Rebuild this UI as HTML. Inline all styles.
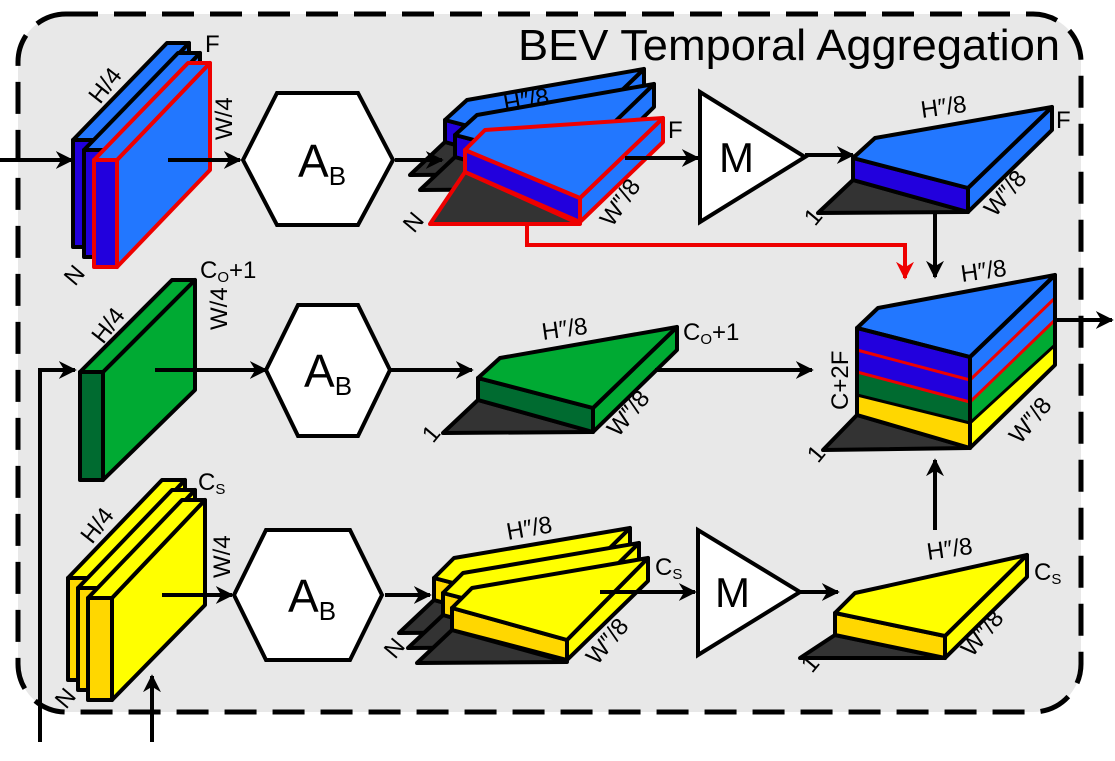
<!DOCTYPE html>
<html><head><meta charset="utf-8"><style>
html,body{margin:0;padding:0;background:#fff;}
svg{display:block;font-family:"Liberation Sans",sans-serif;}
</style></head><body>
<svg width="1115" height="761" viewBox="0 0 1115 761">
<defs>
<marker id="ah" viewBox="0 0 10 10" refX="9" refY="5" markerWidth="4.5" markerHeight="4.5" orient="auto" markerUnits="strokeWidth"><path d="M0,0 L10,5 L0,10 L3,5 z" fill="#000"/></marker>
<marker id="ahr" viewBox="0 0 10 10" refX="9" refY="5" markerWidth="4.5" markerHeight="4.5" orient="auto" markerUnits="strokeWidth"><path d="M0,0 L10,5 L0,10 L3,5 z" fill="#e00"/></marker>
</defs>
<rect x="0" y="0" width="1115" height="761" fill="#fff"/>
<rect x="18" y="14" width="1063" height="698" rx="48" fill="#e8e8e8" stroke="#000" stroke-width="5" stroke-dasharray="32,16"/>
<text x="1060" y="60" font-size="44" text-anchor="end" textLength="542" lengthAdjust="spacingAndGlyphs">BEV Temporal Aggregation</text>

<g stroke="#000" stroke-width="4" stroke-linejoin="round">
<g transform="translate(-21,-20)"><polygon points="94,160 117,160 117,267 94,267" fill="#2200dd"/><polygon points="117,160 210,63 210,170 117,267" fill="#2277ff"/><polygon points="94,160 188,63 210,63 117,160" fill="#2277ff"/></g>
<g transform="translate(-10,-10)"><polygon points="94,160 117,160 117,267 94,267" fill="#2200dd"/><polygon points="117,160 210,63 210,170 117,267" fill="#2277ff"/><polygon points="94,160 188,63 210,63 117,160" fill="#2277ff"/></g>
<g stroke="#e00"><polygon points="94,160 117,160 117,267 94,267" fill="#2200dd"/><polygon points="117,160 210,63 210,170 117,267" fill="#2277ff"/><polygon points="94,160 188,63 210,63 117,160" fill="#2277ff"/></g>
</g>
<text x="205" y="52" font-size="24">F</text>
<text font-size="24" transform="translate(100,105) rotate(-52)">H/4</text>
<text font-size="24" transform="translate(232,140) rotate(-90)">W/4</text>
<text font-size="24" transform="translate(75,287) rotate(-50)">N</text>

<g><polygon points="243,160 277,93 358,93 393,160 358,225 277,225" fill="#fff" stroke="#000" stroke-width="4"/><text x="298" y="177" font-size="46">A<tspan font-size="26" dy="8">B</tspan></text></g>
<g><polygon points="266,370 298,305 358,305 390,370 358,436 298,436" fill="#fff" stroke="#000" stroke-width="4"/><text x="304" y="387" font-size="46">A<tspan font-size="26" dy="8">B</tspan></text></g>
<g><polygon points="234,595 266,530 350,530 382,595 350,660 266,660" fill="#fff" stroke="#000" stroke-width="4"/><text x="288" y="612" font-size="46">A<tspan font-size="26" dy="8">B</tspan></text></g>

<g stroke="#000" stroke-width="4" stroke-linejoin="round">
<g transform="translate(445,120)"><polygon points="-35,55 0,22 115,54" fill="#333"/><polygon points="0,0 115,30 115,54 0,22" fill="#2200dd"/><polygon points="115,30 199,-51 199,-28 115,54" fill="#2277ff"/><polygon points="0,0 22,-20 199,-51 115,30" fill="#2277ff"/></g>
<g transform="translate(455,135)"><polygon points="-35,55 0,22 115,54" fill="#333"/><polygon points="0,0 115,30 115,54 0,22" fill="#2200dd"/><polygon points="115,30 199,-51 199,-28 115,54" fill="#2277ff"/><polygon points="0,0 22,-20 199,-51 115,30" fill="#2277ff"/></g>
<g transform="translate(465,150)" stroke="#e00"><polygon points="-35,74 0,22 115,74" fill="#333"/><polygon points="0,0 115,48 115,72 0,22" fill="#2200dd"/><polygon points="115,48 198,-32 198,-8 115,72" fill="#2277ff"/><polygon points="0,0 20,-20 198,-32 115,48" fill="#2277ff"/></g>
</g>
<text font-size="24" transform="translate(505,112) rotate(-10)">H″/8</text>
<text x="668" y="138" font-size="24">F</text>
<text font-size="24" transform="translate(612,228) rotate(-55)">W″/8</text>
<text font-size="24" transform="translate(414,234) rotate(-50)">N</text>

<polygon points="700,92 700,222 805,157" fill="#fff" stroke="#000" stroke-width="4"/>
<text x="719" y="172" font-size="42">M</text>

<g transform="translate(853,158)" stroke="#000" stroke-width="4" stroke-linejoin="round"><polygon points="-35,55 0,22 115,54" fill="#333"/><polygon points="0,0 115,30 115,54 0,22" fill="#2200dd"/><polygon points="115,30 199,-51 199,-28 115,54" fill="#2277ff"/><polygon points="0,0 22,-20 199,-51 115,30" fill="#2277ff"/></g>
<text font-size="24" transform="translate(922,118) rotate(-8)">H″/8</text>
<text x="1056" y="128" font-size="24">F</text>
<text font-size="24" transform="translate(995,218) rotate(-50)">W″/8</text>
<text font-size="24" transform="translate(815,227) rotate(-50)">1</text>

<g stroke-linejoin="round">
<polygon points="823,450 857,415 970,448" fill="#333" stroke="#000" stroke-width="4"/>
<polygon points="857,328 970,357 970,380 857,350" fill="#2200dd"/>
<polygon points="857,350 970,380 970,402 857,372" fill="#2200dd"/>
<polygon points="857,372 970,402 970,423 857,395" fill="#006b30"/>
<polygon points="857,395 970,423 970,448 857,415" fill="#ffd700"/>
<polygon points="970,357 1055,275 1055,298 970,380" fill="#2277ff"/>
<polygon points="970,380 1055,298 1055,320 970,402" fill="#2277ff"/>
<polygon points="970,402 1055,320 1055,345 970,423" fill="#00aa33"/>
<polygon points="970,423 1055,345 1055,365 970,448" fill="#ffff00"/>
<g stroke="#e00" stroke-width="3"><line x1="857" y1="350" x2="970" y2="380"/><line x1="857" y1="372" x2="970" y2="402"/><line x1="970" y1="380" x2="1055" y2="298"/><line x1="970" y1="402" x2="1055" y2="320"/></g>
<g stroke="#000" stroke-width="3"><line x1="857" y1="395" x2="970" y2="423"/><line x1="970" y1="423" x2="1055" y2="345"/></g>
<polygon points="857,328 878,308 1055,275 970,357" fill="#2277ff" stroke="#000" stroke-width="4"/>
<polygon points="857,328 970,357 970,448 857,415" fill="none" stroke="#000" stroke-width="4"/>
<polygon points="970,357 1055,275 1055,365 970,448" fill="none" stroke="#000" stroke-width="4"/>
</g>
<text font-size="24" transform="translate(962,282) rotate(-8)">H″/8</text>
<text font-size="24" transform="translate(848,410) rotate(-90)">C+2F</text>
<text font-size="24" transform="translate(1020,445) rotate(-50)">W″/8</text>
<text font-size="24" transform="translate(818,464) rotate(-50)">1</text>

<g stroke="#000" stroke-width="4" stroke-linejoin="round">
<polygon points="80,372 103,372 103,480 80,480" fill="#006b30"/>
<polygon points="103,372 195,280 195,390 103,480" fill="#00aa33"/>
<polygon points="80,372 172,280 195,280 103,372" fill="#00aa33"/>
</g>
<text x="200" y="278" font-size="24">C<tspan font-size="15" dy="4">O</tspan><tspan dy="-4">+1</tspan></text>
<text font-size="24" transform="translate(103,345) rotate(-52)">H/4</text>
<text font-size="24" transform="translate(227,330) rotate(-90)">W/4</text>

<g transform="translate(478,378)" stroke="#000" stroke-width="4" stroke-linejoin="round"><polygon points="-35,55 0,22 115,54" fill="#333"/><polygon points="0,0 115,30 115,54 0,22" fill="#006b30"/><polygon points="115,30 199,-51 199,-28 115,54" fill="#00aa33"/><polygon points="0,0 22,-20 199,-51 115,30" fill="#00aa33"/></g>
<text font-size="24" transform="translate(543,340) rotate(-8)">H″/8</text>
<text x="683" y="340" font-size="24">C<tspan font-size="15" dy="4">O</tspan><tspan dy="-4">+1</tspan></text>
<text font-size="24" transform="translate(618,438) rotate(-50)">W″/8</text>
<text font-size="24" transform="translate(433,444) rotate(-50)">1</text>

<g stroke="#000" stroke-width="4" stroke-linejoin="round">
<g transform="translate(-20,-20)"><polygon points="88,598 112,598 112,700 88,700" fill="#ffd700"/><polygon points="112,598 205,500 205,605 112,700" fill="#ffff00"/><polygon points="88,598 182,500 205,500 112,598" fill="#ffff00"/></g>
<g transform="translate(-10,-10)"><polygon points="88,598 112,598 112,700 88,700" fill="#ffd700"/><polygon points="112,598 205,500 205,605 112,700" fill="#ffff00"/><polygon points="88,598 182,500 205,500 112,598" fill="#ffff00"/></g>
<g><polygon points="88,598 112,598 112,700 88,700" fill="#ffd700"/><polygon points="112,598 205,500 205,605 112,700" fill="#ffff00"/><polygon points="88,598 182,500 205,500 112,598" fill="#ffff00"/></g>
</g>
<text x="198" y="490" font-size="24">C<tspan font-size="15" dy="4">S</tspan></text>
<text font-size="24" transform="translate(92,545) rotate(-52)">H/4</text>
<text font-size="24" transform="translate(230,578) rotate(-90)">W/4</text>
<text font-size="24" transform="translate(66,710) rotate(-50)">N</text>

<g stroke="#000" stroke-width="4" stroke-linejoin="round">
<g transform="translate(434,578)"><polygon points="-35,55 0,22 115,54" fill="#333"/><polygon points="0,0 115,30 115,54 0,22" fill="#ffd700"/><polygon points="115,30 196,-50 196,-27 115,54" fill="#ffff00"/><polygon points="0,0 20,-20 196,-50 115,30" fill="#ffff00"/></g>
<g transform="translate(443,593)"><polygon points="-35,55 0,22 115,54" fill="#333"/><polygon points="0,0 115,30 115,54 0,22" fill="#ffd700"/><polygon points="115,30 196,-50 196,-27 115,54" fill="#ffff00"/><polygon points="0,0 20,-20 196,-50 115,30" fill="#ffff00"/></g>
<g transform="translate(452,608)"><polygon points="-35,55 0,22 115,54" fill="#333"/><polygon points="0,0 115,32 115,52 0,22" fill="#ffd700"/><polygon points="115,32 196,-50 196,-27 115,52" fill="#ffff00"/><polygon points="0,0 20,-20 196,-50 115,32" fill="#ffff00"/></g>
</g>
<text font-size="24" transform="translate(508,540) rotate(-10)">H″/8</text>
<text x="655" y="575" font-size="24">C<tspan font-size="15" dy="4">S</tspan></text>
<text font-size="24" transform="translate(597,666) rotate(-50)">W″/8</text>
<text font-size="24" transform="translate(395,660) rotate(-50)">N</text>

<polygon points="698,530 698,655 800,592" fill="#fff" stroke="#000" stroke-width="4"/>
<text x="715" y="607" font-size="42">M</text>

<g transform="translate(835,613)" stroke="#000" stroke-width="4" stroke-linejoin="round"><polygon points="-35,45 0,22 110,45" fill="#333"/><polygon points="0,0 110,23 110,45 0,22" fill="#ffd700"/><polygon points="110,23 192,-58 192,-36 110,45" fill="#ffff00"/><polygon points="0,0 20,-20 192,-58 110,23" fill="#ffff00"/></g>
<text font-size="24" transform="translate(928,560) rotate(-8)">H″/8</text>
<text x="1034" y="580" font-size="24">C<tspan font-size="15" dy="4">S</tspan></text>
<text font-size="24" transform="translate(972,658) rotate(-50)">W″/8</text>
<text font-size="24" transform="translate(812,674) rotate(-50)">1</text>

<g stroke="#000" stroke-width="4" fill="none">
<line x1="0" y1="160" x2="72" y2="160" marker-end="url(#ah)"/>
<line x1="168" y1="160" x2="240" y2="160" marker-end="url(#ah)"/>
<line x1="395" y1="160" x2="442" y2="160" marker-end="url(#ah)"/>
<line x1="625" y1="158" x2="698" y2="158" marker-end="url(#ah)"/>
<line x1="805" y1="155" x2="853" y2="155" marker-end="url(#ah)"/>
<line x1="935" y1="213" x2="935" y2="277" marker-end="url(#ah)"/>
<polyline points="40,742 40,370 75,370" marker-end="url(#ah)"/>
<line x1="155" y1="370" x2="266" y2="370" marker-end="url(#ah)"/>
<line x1="390" y1="370" x2="472" y2="370" marker-end="url(#ah)"/>
<line x1="655" y1="370" x2="812" y2="370" marker-end="url(#ah)"/>
<line x1="152" y1="742" x2="152" y2="676" marker-end="url(#ah)"/>
<line x1="162" y1="595" x2="232" y2="595" marker-end="url(#ah)"/>
<line x1="385" y1="595" x2="430" y2="595" marker-end="url(#ah)"/>
<line x1="600" y1="592" x2="695" y2="592" marker-end="url(#ah)"/>
<line x1="800" y1="592" x2="838" y2="592" marker-end="url(#ah)"/>
<line x1="935" y1="530" x2="935" y2="460" marker-end="url(#ah)"/>
<line x1="1055" y1="320" x2="1112" y2="320" marker-end="url(#ah)"/>
<polyline points="527,223 527,245 905,245 905,278" stroke="#e00" marker-end="url(#ahr)"/>
</g>
</svg>
</body></html>
